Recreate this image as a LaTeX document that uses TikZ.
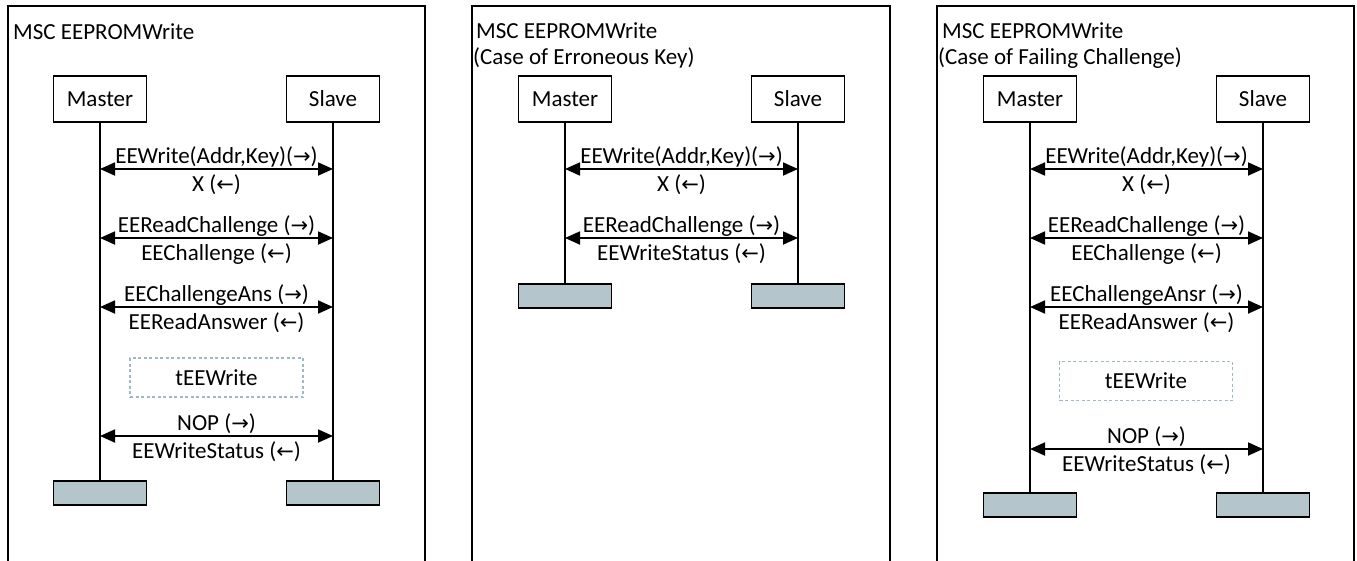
\documentclass[tikz,border=0pt]{standalone}
\usepackage{fontspec}
\setmainfont{Carlito}
\newfontfamily\arrfont{DejaVu Sans}
\usetikzlibrary{arrows.meta,calc}
\definecolor{endfill}{RGB}{180,198,204}
\definecolor{dashc}{RGB}{160,184,196}
\newcommand{\myR}{{\arrfont\fontsize{21}{22}\selectfont →}}
\newcommand{\myL}{{\arrfont\fontsize{21}{22}\selectfont ←}}
\newcommand{\mymsg}[6]{%
  \coordinate (#1l) at (#2,#4);
  \coordinate (#1r) at (#3,#4);
  \draw[msgline] (#1l) -- (#1r);
  \node[lbl] (#1u) at ($(#1l)!0.5!(#1r)+(0,-12)$) {#5};
  \node[lbl] (#1d) at ($(#1l)!0.5!(#1r)+(0,16)$) {#6};
}
\begin{document}
\begin{tikzpicture}[x=1pt,y=-1pt,
  every node/.style={font=\fontsize{23}{27}\selectfont, inner sep=0pt},
  frameline/.style={line width=1.8pt},
  actor/.style={draw, line width=1.8pt, minimum width=93pt, minimum height=46pt},
  endbox/.style={draw, line width=1.8pt, fill=endfill, minimum width=93pt, minimum height=24pt},
  life/.style={line width=1.8pt},
  msgline/.style={line width=1.8pt, {Triangle[length=15pt,width=13pt]}-{Triangle[length=15pt,width=13pt]}},
  lbl/.style={},
  timer/.style={draw=dashc, line width=1.4pt, dash pattern=on 3pt off 2.5pt, minimum width=173pt, minimum height=39pt},
  title/.style={anchor=west}
]
\useasboundingbox (0,0) rectangle (1357,560);

% ---------------- Panel 1 ----------------
\draw[frameline] (8,562) -- (8,6) -- (425,6) -- (425,562);
\node[title] (p1title) at (13,32) {MSC EEPROMWrite};
\node[actor] (p1m) at (100,99) {Master};
\node[actor] (p1s) at (333,99) {Slave};
\node[endbox] (p1me) at (100,493) {};
\node[endbox] (p1se) at (333,493) {};
\draw[life] (p1m.south) -- (p1me.north);
\draw[life] (p1s.south) -- (p1se.north);
\mymsg{p1a}{100}{333}{169}{EEWrite(Addr,Key)(\myR)}{X (\myL)}
\mymsg{p1b}{100}{333}{238}{EEReadChallenge (\myR)}{EEChallenge (\myL)}
\mymsg{p1c}{100}{333}{307}{EEChallengeAns (\myR)}{EEReadAnswer (\myL)}
\node[timer] (p1t) at (216.5,377.5) {tEEWrite};
\mymsg{p1d}{100}{333}{436}{NOP (\myR)}{EEWriteStatus (\myL)}

% ---------------- Panel 2 ----------------
\draw[frameline] (472,562) -- (472,6) -- (890,6) -- (890,562);
\node[title] (p2title) at (476,31) {MSC EEPROMWrite};
\node[title] (p2sub) at (473,58) {(Case of Erroneous Key)};
\node[actor] (p2m) at (565,99) {Master};
\node[actor] (p2s) at (798,99) {Slave};
\node[endbox] (p2me) at (565,296) {};
\node[endbox] (p2se) at (798,296) {};
\draw[life] (p2m.south) -- (p2me.north);
\draw[life] (p2s.south) -- (p2se.north);
\mymsg{p2a}{565}{798}{169}{EEWrite(Addr,Key)(\myR)}{X (\myL)}
\mymsg{p2b}{565}{798}{238}{EEReadChallenge (\myR)}{EEWriteStatus (\myL)}

% ---------------- Panel 3 ----------------
\draw[frameline] (937,562) -- (937,6) -- (1354,6) -- (1354,562);
\node[title] (p3title) at (942,31) {MSC EEPROMWrite};
\node[title] (p3sub) at (938,58) {(Case of Failing Challenge)};
\node[actor] (p3m) at (1030,99) {Master};
\node[actor] (p3s) at (1263,99) {Slave};
\node[endbox] (p3me) at (1030,505) {};
\node[endbox] (p3se) at (1263,505) {};
\draw[life] (p3m.south) -- (p3me.north);
\draw[life] (p3s.south) -- (p3se.north);
\mymsg{p3a}{1030}{1263}{169}{EEWrite(Addr,Key)(\myR)}{X (\myL)}
\mymsg{p3b}{1030}{1263}{238}{EEReadChallenge (\myR)}{EEChallenge (\myL)}
\mymsg{p3c}{1030}{1263}{307}{EEChallengeAnsr (\myR)}{EEReadAnswer (\myL)}
\node[timer] (p3t) at (1146,381) {tEEWrite};
\mymsg{p3d}{1030}{1263}{449}{NOP (\myR)}{EEWriteStatus (\myL)}
\end{tikzpicture}
\end{document}
